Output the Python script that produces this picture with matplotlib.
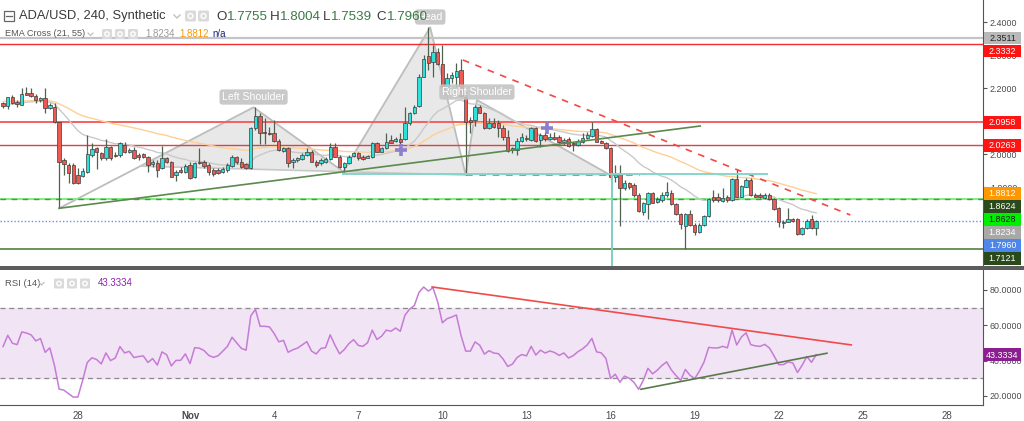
import numpy as np
import pandas as pd
import matplotlib
matplotlib.use("Agg")
import matplotlib.pyplot as plt
from matplotlib.patches import Rectangle, Polygon, FancyBboxPatch

plt.rcParams['font.family'] = ['Liberation Sans', 'DejaVu Sans']

W, H = 1024, 421

# ---------------- data (4h candles, ADA/USD) ----------------
start = pd.Timestamp("2018-10-25 08:00")
opens = [2.1537, 2.1455, 2.1737, 2.1576, 2.1494, 2.1840, 2.1840, 2.1758, 2.1636, 2.1688,
         2.1385, 2.1434, 2.0979, 1.9818, 1.9667, 1.9667, 1.9364, 1.9333, 1.9464, 1.9970,
         2.0173, 2.0021, 1.9870, 2.0203, 1.9970, 1.9970, 2.0273, 2.0070, 2.0121, 1.9970,
         1.9991, 1.9918, 1.9697, 1.9718, 1.9567, 1.9870, 1.9767, 1.9364, 1.9515, 1.9464,
         1.9667, 1.9294, 1.9767, 1.9767, 1.9667, 1.9515, 1.9515, 1.9446, 1.9515, 1.9646,
         1.9900, 1.9767, 1.9697, 1.9567, 2.0779, 2.1152, 2.0676, 2.0646, 2.0627, 2.0403,
         2.0100, 2.0173, 1.9767, 1.9818, 1.9840, 1.9970, 2.0070, 1.9767, 1.9718, 1.9767,
         1.9840, 2.0203, 1.9918, 1.9615, 1.9737, 1.9940, 2.0021, 1.9918, 1.9888, 1.9900,
         2.0324, 2.0070, 2.0173, 2.0424, 2.0403, 2.0446, 2.0446, 2.0949, 2.1252, 2.1455,
         2.2343, 2.2970, 2.2797, 2.3100, 2.2727, 2.2040, 2.2294, 2.2343, 2.2546, 2.1737,
         2.1030, 2.1030, 2.1415, 2.1252, 2.0779, 2.0930, 2.0930, 2.0779, 2.0524, 2.0121,
         2.0121, 2.0403, 2.0494, 2.0424, 2.0779, 2.0424, 2.0576, 2.0455, 2.0506, 2.0506,
         2.0355, 2.0446, 2.0343, 2.0273, 2.0373, 2.0476, 2.0546, 2.0749, 2.0385, 2.0343,
         2.0173, 1.9294, 1.9434, 1.8961, 1.9112, 1.9061, 1.8758, 1.8252, 1.8485, 1.8828,
         1.8555, 1.8606, 1.8758, 1.8828, 1.8485, 1.8182, 1.7818, 1.8182, 1.7849, 1.7646,
         1.7849, 1.8121, 1.8688, 1.8688, 1.8585, 1.8688, 1.8606, 1.9234, 1.8706, 1.9009,
         1.9212, 1.8758, 1.8758, 1.8658, 1.8758, 1.8627, 1.8355, 1.7900, 1.7949, 1.8021,
         1.8021, 1.7567, 1.7748, 1.8021, 1.7755]
highs = [2.1567, 2.1737, 2.1788, 2.1636, 2.1991, 2.2021, 2.1991, 2.1809, 2.1737, 2.1991,
         2.1537, 2.1555, 2.0979, 1.9879, 1.9727, 1.9727, 1.9567, 1.9567, 2.0576, 2.0324,
         2.0221, 2.0070, 2.0455, 2.0243, 2.0061, 2.0373, 2.0373, 2.0173, 2.0203, 2.0021,
         2.0021, 1.9949, 1.9818, 1.9818, 2.0243, 1.9918, 1.9797, 1.9515, 1.9615, 1.9697,
         1.9767, 1.9767, 2.0173, 1.9818, 1.9718, 1.9567, 1.9567, 1.9606, 1.9718, 1.9970,
         1.9940, 1.9870, 1.9718, 2.0827, 2.1415, 2.1233, 2.1082, 2.0827, 2.1030, 2.0446,
         2.0212, 2.0221, 1.9870, 1.9918, 2.0021, 2.0173, 2.0121, 1.9818, 1.9870, 1.9900,
         2.0324, 2.0343, 1.9970, 1.9767, 1.9970, 2.0070, 2.0070, 1.9970, 1.9970, 2.0373,
         2.0373, 2.0221, 2.0627, 2.0576, 2.0515, 2.0627, 2.1415, 2.1282, 2.1485, 2.2424,
         2.3000, 2.3840, 2.3303, 2.3203, 2.3303, 2.2446, 2.2494, 2.2749, 2.2870, 2.1879,
         2.1131, 2.1485, 2.1485, 2.1282, 2.1082, 2.1082, 2.1030, 2.0879, 2.0727, 2.0221,
         2.0476, 2.0627, 2.0576, 2.0827, 2.0827, 2.0627, 2.0676, 2.0627, 2.0676, 2.0576,
         2.0476, 2.0506, 2.0373, 2.0446, 2.0627, 2.0676, 2.0979, 2.0797, 2.0424, 2.0373,
         2.0221, 1.9667, 1.9667, 1.9212, 1.9161, 1.9112, 1.8809, 1.8555, 1.8858, 1.8858,
         1.8706, 1.8858, 1.9161, 1.8909, 1.8506, 1.8222, 1.8222, 1.8303, 1.7900, 1.7900,
         1.8152, 1.8658, 1.8909, 1.8809, 1.8961, 1.8758, 1.9264, 1.9537, 1.9061, 1.9264,
         1.9264, 1.8809, 1.8809, 1.8809, 1.8809, 1.8658, 1.8394, 1.8000, 1.8355, 1.8052,
         1.8052, 1.7797, 1.8021, 1.8152, 1.8004]
lows = [2.1385, 2.1373, 2.1515, 2.1434, 2.1476, 2.1779, 2.1737, 2.1555, 2.1585, 2.1252,
        2.1355, 2.0939, 1.8355, 1.9364, 1.9112, 1.9091, 1.9091, 1.9312, 1.9434, 1.9918,
        1.9537, 1.9818, 1.9818, 1.9818, 1.9900, 1.9918, 2.0021, 2.0021, 1.9840, 1.9818,
        1.9870, 1.9464, 1.9615, 1.9294, 1.9537, 1.9718, 1.9294, 1.9191, 1.9415, 1.9434,
        1.9234, 1.9264, 1.9697, 1.9567, 1.9364, 1.9333, 1.9394, 1.9415, 1.9464, 1.9615,
        1.9697, 1.9567, 1.9537, 1.9546, 2.0727, 2.0303, 2.0303, 2.0576, 2.0373, 2.0100,
        2.0061, 1.9597, 1.9567, 1.9767, 1.9818, 1.9949, 1.9749, 1.9615, 1.9667, 1.9718,
        1.9818, 1.9900, 1.9567, 1.9464, 1.9697, 1.9900, 1.9818, 1.9818, 1.9870, 1.9870,
        2.0052, 2.0052, 2.0143, 2.0324, 2.0373, 2.0182, 2.0424, 2.0879, 2.1212, 2.1424,
        2.2324, 2.2545, 2.2324, 2.2697, 2.2021, 2.1991, 2.2143, 2.2040, 2.1737, 1.9364,
        2.0636, 2.0849, 2.1233, 2.0749, 2.0749, 2.0779, 2.0506, 2.0424, 2.0070, 2.0021,
        1.9970, 2.0373, 2.0403, 2.0403, 2.0373, 2.0221, 2.0403, 2.0424, 2.0424, 2.0324,
        2.0273, 2.0221, 2.0100, 2.0243, 2.0343, 2.0446, 2.0524, 2.0355, 2.0324, 2.0143,
        1.9212, 1.9161, 1.7818, 1.8909, 1.8940, 1.8706, 1.8252, 1.8152, 1.8021, 1.8506,
        1.8506, 1.8555, 1.8706, 1.8455, 1.8152, 1.7718, 1.7121, 1.7818, 1.7546, 1.7597,
        1.7818, 1.8100, 1.8555, 1.8555, 1.8555, 1.8555, 1.8576, 1.8688, 1.8688, 1.8991,
        1.8727, 1.8688, 1.8658, 1.8627, 1.8606, 1.8303, 1.7797, 1.7758, 1.7930, 1.7949,
        1.7546, 1.7546, 1.7727, 1.7727, 1.7539]
closes = [2.1455, 2.1718, 2.1537, 2.1506, 2.1818, 2.1797, 2.1758, 2.1636, 2.1688, 2.1385,
          2.1476, 2.0979, 1.9767, 1.9697, 1.9415, 1.9112, 1.9112, 1.9485, 1.9991, 2.0143,
          2.0070, 1.9870, 2.0203, 1.9870, 1.9949, 2.0324, 2.0070, 2.0121, 1.9870, 1.9900,
          1.9918, 1.9667, 1.9767, 1.9515, 1.9870, 1.9767, 1.9312, 1.9464, 1.9464, 1.9637,
          1.9264, 1.9737, 1.9718, 1.9637, 1.9464, 1.9394, 1.9434, 1.9546, 1.9667, 1.9918,
          1.9767, 1.9615, 1.9567, 2.0779, 2.1152, 2.0627, 2.0627, 2.0606, 2.0403, 2.0121,
          2.0173, 1.9737, 1.9818, 1.9870, 1.9970, 2.0070, 1.9767, 1.9667, 1.9818, 1.9840,
          2.0221, 1.9918, 1.9615, 1.9737, 1.9918, 2.0040, 1.9870, 1.9840, 1.9940, 2.0324,
          2.0070, 2.0173, 2.0373, 2.0343, 2.0446, 2.0373, 2.0949, 2.1233, 2.1415, 2.2324,
          2.2870, 2.2767, 2.3100, 2.2727, 2.2040, 2.2294, 2.2394, 2.2525, 2.1758, 2.0979,
          2.0979, 2.1415, 2.1252, 2.0779, 2.0930, 2.0809, 2.0779, 2.0506, 2.0091, 2.0173,
          2.0403, 2.0506, 2.0446, 2.0779, 2.0403, 2.0576, 2.0455, 2.0524, 2.0464, 2.0355,
          2.0424, 2.0243, 2.0303, 2.0403, 2.0476, 2.0576, 2.0749, 2.0373, 2.0343, 2.0173,
          1.9312, 1.9415, 1.8961, 1.9112, 1.8991, 1.8758, 1.8282, 1.8506, 1.8828, 1.8525,
          1.8627, 1.8758, 1.8858, 1.8485, 1.8182, 1.7879, 1.8182, 1.7849, 1.7646, 1.7849,
          1.8121, 1.8627, 1.8606, 1.8606, 1.8658, 1.8606, 1.9234, 1.8706, 1.9030, 1.9212,
          1.8758, 1.8706, 1.8688, 1.8758, 1.8627, 1.8324, 1.7949, 1.7949, 1.8021, 1.7979,
          1.7567, 1.7748, 1.7979, 1.7748, 1.7960]

# indicator seeds (values read at the left edge of the chart)
ema_fast_len, ema_slow_len = 21, 55
ema_fast_seed, ema_slow_seed = 2.150, 2.160
rsi_len = 14
rsi_seed_gain, rsi_seed_loss = 0.0075, 0.0075

# header / tag values shown in the chart
ohlc_text = [("O", "1.7755"), ("H", "1.8004"), ("L", "1.7539"), ("C", "1.7960")]
ema_text = [("1.8234", "#9a9a9a"), ("1.8812", "#ff9800"), ("n/a", "#1a237e")]
rsi_value_text = "43.3334"

# horizontal levels
h_levels = [2.3511, 2.3332, 2.0958, 2.0263, 1.8628, 1.8624, 1.7960, 1.7121]
price_tags = [(2.3511, '#b9b9b9', '#222222'), (2.3332, '#ff1414', 'white'),
              (2.0958, '#ff1414', 'white'), (2.0263, '#ff1414', 'white'),
              (1.8812, '#ff9800', 'white'), (1.8624, '#2b4a1c', 'white'),
              (1.8628, '#00ee00', '#1a1a1a'), (1.8234, '#a8a8a8', 'white'),
              (1.7960, '#4f86ea', 'white'), (1.7121, '#2b4a1c', 'white')]
price_ticks = [1.9, 2.0, 2.2, 2.3, 2.4]
rsi_ticks = [20, 40, 60, 80]

# head & shoulders pattern anchors (bar index, price)
hs_A = (12.0, 1.8355)
hs_B = (53.6, 2.1415)
hs_C = (72.8, 1.9465)
hs_D = (91.4, 2.3840)
hs_E = (99.0, 1.9364)
hs_F = (101.4, 2.1636)
hs_G = (130.3, 1.9333)
hs_labels = [("Left Shoulder", 53.6, 2.1727), ("Head", 91.4, 2.4152), ("Right Shoulder", 101.4, 2.1879)]

# other drawings (bar index, price)
trend_up = [(12.0, 1.8355), (149.2, 2.0849)]
trend_down_dash = [(98.4, 2.2849), (181.3, 1.8152)]
hline_red_dash = [(99.0, 1.9364), (136.3, 1.9364)]
neck_teal = [(72.8, 1.9409), (163.5, 1.9409)]
vline_teal = [(130.3, 1.9409), (130.3, 1.6650)]
cross_marks = [(85.2, 2.0121), (116.4, 2.0788)]
rsi_trend_red = [(91.8, 81.7), (181.5, 48.9)]
rsi_trend_green = [(136.5, 23.8), (176.3, 44.2)]

tick_dates = ["2018-10-28", "2018-11-01", "2018-11-04", "2018-11-07", "2018-11-10",
              "2018-11-13", "2018-11-16", "2018-11-19", "2018-11-22", "2018-11-25", "2018-11-28"]
tick_labels = ["28", "Nov", "4", "7", "10", "13", "16", "19", "22", "25", "28"]

# ---------------- computations ----------------
o = np.array(opens); h = np.array(highs); l = np.array(lows); c = np.array(closes)
n = len(c)
xs = np.arange(n)


def ema(vals, length, seed):
    a = 2.0 / (length + 1)
    e = seed
    out = []
    for v in vals:
        e = a * v + (1 - a) * e
        out.append(e)
    return np.array(out)


def wilder_rsi(vals, length, prev, g0, l0):
    ag, al = g0, l0
    out = []
    for v in vals:
        ch = v - prev
        ag = (ag * (length - 1) + max(ch, 0)) / length
        al = (al * (length - 1) + max(-ch, 0)) / length
        out.append(100 - 100 / (1 + ag / al))
        prev = v
    return np.array(out)


ema_fast = ema(c, ema_fast_len, ema_fast_seed)
ema_slow = ema(c, ema_slow_len, ema_slow_seed)
rsi = wilder_rsi(c, rsi_len, o[0], rsi_seed_gain, rsi_seed_loss)

# ---------------- figure ----------------
fig = plt.figure(figsize=(W / 100, H / 100), dpi=100)
fig.patch.set_facecolor('white')
AXR = 983


def rect(top, bot):
    return [0, 1 - bot / H, AXR / W, (bot - top) / H]


ax = fig.add_axes(rect(0, 266))
rax = fig.add_axes(rect(270, 405))
ax.set_xlim(-0.664, 209.7)
rax.set_xlim(-0.664, 209.7)
ax.set_ylim(1.6606, 2.4667)
rax.set_ylim(14.9, 91.3)

for a in (ax, rax):
    for s in a.spines.values():
        s.set_visible(False)
    a.spines['right'].set_visible(True)
    a.spines['right'].set_color('#555555')
    a.yaxis.tick_right()
    a.tick_params(axis='y', length=3, width=0.8, color='#555555', labelsize=6.4,
                  labelcolor='#4a4a4a', pad=2)
rax.spines['bottom'].set_visible(True)
rax.spines['bottom'].set_color('#555555')
ax.set_xticks([])
ax.set_yticks(price_ticks)
ax.yaxis.set_major_formatter(plt.FormatStrFormatter('%.4f'))
rax.set_yticks(rsi_ticks)
rax.yaxis.set_major_formatter(plt.FormatStrFormatter('%.4f'))

tpos = [(pd.Timestamp(d) - start) / pd.Timedelta(hours=4) for d in tick_dates]
rax.set_xticks(tpos)
rax.set_xticklabels(tick_labels)
rax.tick_params(axis='x', length=0, labelsize=7, labelcolor='#4a4a4a', pad=4)
for t in rax.get_xticklabels():
    if t.get_text() == "Nov":
        t.set_fontweight('bold')

# ---- horizontal levels ----
ax.axhline(h_levels[0], color='#c4c4c4', lw=1.6, zorder=1)
ax.axhline(h_levels[1], color='#f03030', lw=1.0, zorder=1)
ax.axhline(h_levels[2], color='#f56060', lw=1.4, zorder=1)
ax.axhline(h_levels[3], color='#e04040', lw=1.0, zorder=1)
ax.axhline(h_levels[4], color='#7df07d', lw=1.4, zorder=1)
ax.axhline(h_levels[5], color='#777777', lw=1.0, ls=(0, (4, 4)), zorder=1)
ax.axhline(h_levels[6], color='#6f8fe8', lw=1.0, ls=(0, (1, 1.5)), zorder=1)
ax.axhline(h_levels[7], color='#6e9160', lw=1.4, zorder=1)


# ---- head & shoulders ----
def intersect(p1, p2, p3, p4):
    x1, y1 = p1; x2, y2 = p2; x3, y3 = p3; x4, y4 = p4
    d = (x1 - x2) * (y3 - y4) - (y1 - y2) * (x3 - x4)
    t = ((x1 - x3) * (y3 - y4) - (y1 - y3) * (x3 - x4)) / d
    return (x1 + t * (x2 - x1), y1 + t * (y2 - y1))


X1 = intersect(hs_A, hs_B, hs_C, hs_E)
for tri in ([X1, hs_B, hs_C], [hs_C, hs_D, hs_E], [hs_E, hs_F, hs_G]):
    ax.add_patch(Polygon(tri, closed=True, facecolor='#d9d9d9', alpha=0.6,
                         edgecolor='none', zorder=0.5))
pts = [hs_A, hs_B, hs_C, hs_D, hs_E, hs_F, hs_G]
ax.plot([p[0] for p in pts], [p[1] for p in pts], color='#bdbdbd', lw=1.3, zorder=0.6)
ax.plot([X1[0], hs_C[0], hs_E[0]], [X1[1], hs_C[1], hs_E[1]], color='#c8c8c8', lw=1.2, zorder=0.6)

# ---- EMA lines ----
ax.plot(xs, ema_fast, color='#c9c9c9', lw=1.0, zorder=2)
ax.plot(xs, ema_slow, color='#ffcf94', lw=1.0, zorder=2)

# ---- candles ----
up = c >= o
ax.vlines(xs, l, h, color='#4f614f', lw=0.9, zorder=3)
for i in range(n):
    lo_b = min(o[i], c[i]); hi_b = max(o[i], c[i])
    hb = max(hi_b - lo_b, 0.0012)
    ax.add_patch(Rectangle((xs[i] - 0.36, lo_b), 0.72, hb,
                           facecolor='#2fe0d8' if up[i] else '#ee5a52',
                           edgecolor='#3d3d3d', lw=0.5, zorder=4))

# ---- trend lines / drawings ----
ax.plot(*zip(*trend_up), color='#5a8a4c', lw=1.2, zorder=5)
ax.plot(*zip(*trend_down_dash), color='#f04848', lw=1.2, ls=(0, (4, 4)), zorder=5)
ax.plot(*zip(*hline_red_dash), color='#f06060', lw=1.2, ls=(0, (4, 4)), zorder=5)
ax.plot(*zip(*neck_teal), color='#86d6cb', lw=1.4, zorder=5)
ax.plot(*zip(*vline_teal), color='#7dcfc3', lw=1.4, zorder=5)
for cx, cy in cross_marks:
    ax.plot(cx, cy, marker='+', ms=9, mew=2.6, color='#8c7fd0', zorder=6)

for txt, bx, by in hs_labels:
    ax.text(bx, by, txt, ha='center', va='center', fontsize=7.6, color='white', zorder=7,
            bbox=dict(boxstyle='round,pad=0.25,rounding_size=0.3', fc='#c3c3c3', ec='none', alpha=0.9))

# ---- RSI panel ----
rax.axhspan(30, 70, color='#f1e4f4', zorder=0)
rax.axhline(70, color='#8a8a8a', lw=0.9, ls=(0, (4, 3)), zorder=1)
rax.axhline(30, color='#8a8a8a', lw=0.9, ls=(0, (4, 3)), zorder=1)
rax.plot(xs, rsi, color='#c67bd6', lw=1.1, zorder=3)
rax.plot(*zip(*rsi_trend_red), color='#f04a4a', lw=1.2, zorder=4)
rax.plot(*zip(*rsi_trend_green), color='#5a7a4c', lw=1.2, zorder=4)

# ---------------- overlay (pixel space) ----------------
ov = fig.add_axes([0, 0, 1, 1], zorder=10)
ov.set_xlim(0, W); ov.set_ylim(H, 0); ov.axis('off'); ov.patch.set_alpha(0)

ov.add_patch(Rectangle((0, 266), W, 4, color='#5c5c5c', lw=0))


def px_y(a, v):
    return H - a.transData.transform((0, v))[1]


def tag(yc, text, bg, fg):
    ov.add_patch(Rectangle((984, yc - 6.3), 37, 12.6, facecolor=bg, edgecolor='none', zorder=20))
    ov.text(1002.5, yc + 0.3, text, ha='center', va='center', fontsize=6.4, color=fg, zorder=21)


prev = -100
for v, bg, fg in price_tags:
    y0 = max(px_y(ax, v), prev + 13.0)
    tag(y0, f"{v:.4f}", bg, fg)
    prev = y0
tag(px_y(rax, float(rsi_value_text)), rsi_value_text, '#8b1f8f', 'white')


def icon(x, y, sz=11):
    ov.add_patch(FancyBboxPatch((x, y - sz / 2), sz, sz, boxstyle='round,pad=0,rounding_size=1.5',
                                fc='#dadada', ec='none', zorder=20))
    ov.add_patch(plt.Circle((x + sz / 2, y), sz * 0.22, fc='none', ec='white', lw=1.0, zorder=21))


# header line 1
ov.add_patch(Rectangle((3.5, 11), 10, 10, fill=False, ec='#666666', lw=0.9, zorder=20))
ov.plot([5.5, 11.5], [16, 16], color='#666666', lw=0.9, zorder=21)
ov.text(19, 16.5, "ADA/USD, 240, Synthetic", fontsize=9.3, color='#3a3a3a', va='center', zorder=21)
ov.plot([174, 177, 180], [15, 18, 15], color='#c0c0c0', lw=1.0, zorder=21)
icon(185, 16, 11)
icon(198, 16, 11)
renderer = fig.canvas.get_renderer()
for (letter, val), x0 in zip(ohlc_text, [216, 269.5, 323, 376.5]):
    t = ov.text(x0, 16.5, letter, fontsize=9.6, color='#3a3a3a', va='center', zorder=21)
    bb = t.get_window_extent(renderer)
    ov.text(x0 + bb.width + 0.5, 16.5, val, fontsize=9.6, color='#3a7a45', va='center', zorder=21)

# header line 2
ov.text(5, 34, "EMA Cross (21, 55)", fontsize=6.6, color='#555555', va='center', zorder=21)
ov.plot([88, 90.5, 93], [33, 35.5, 33], color='#c0c0c0', lw=0.9, zorder=21)
icon(102, 34, 10)
icon(115, 34, 10)
icon(128, 34, 10)
for (val, col), x0 in zip(ema_text, [145, 179, 212]):
    ov.text(x0, 34, val, fontsize=7.0, color=col, va='center', zorder=21)

# RSI header
ov.text(5, 283.5, "RSI (14)", fontsize=6.8, color='#555555', va='center', zorder=21)
ov.plot([39, 41.5, 44], [282.5, 285, 282.5], color='#c0c0c0', lw=0.9, zorder=21)
icon(54, 283.5, 10)
icon(67, 283.5, 10)
icon(80, 283.5, 10)
ov.text(98, 283.5, rsi_value_text, fontsize=7.0, color='#8e24aa', va='center', zorder=21)

fig.savefig("out.png", dpi=100)
